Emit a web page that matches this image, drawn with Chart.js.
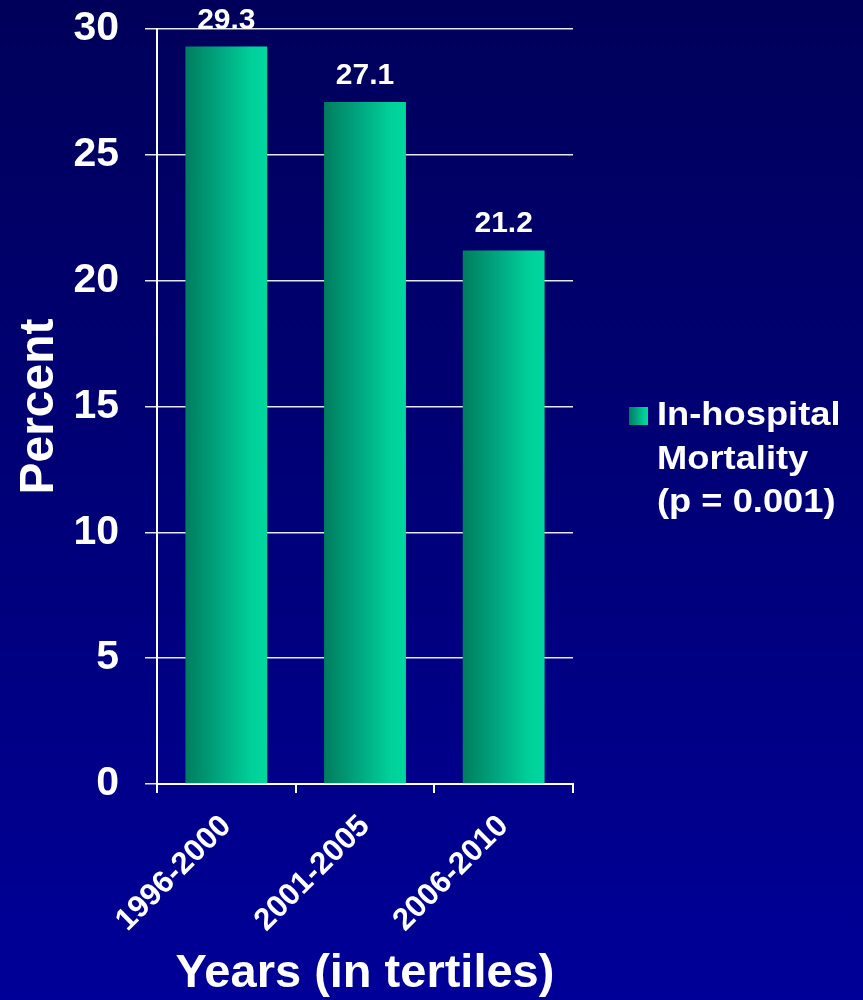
<!DOCTYPE html>
<html>
<head>
<meta charset="utf-8">
<script src="https://cdn.jsdelivr.net/npm/chart.js@4/dist/chart.umd.min.js"></script>
<style>
  html, body { margin: 0; padding: 0; background: #000070; }
  #wrap { width: 863px; height: 1000px; }
</style>
</head>
<body>
<div id="wrap"><canvas id="chart" width="863" height="1000"></canvas></div>
<script>
// Data
const categories = ['1996-2000', '2001-2005', '2006-2010'];
const mortality = [29.3, 27.1, 21.2];
const seriesLines = ['In-hospital', 'Mortality', '(p = 0.001)'];
const yTicks = [0, 5, 10, 15, 20, 25, 30];
const yTitle = 'Percent';
const xTitle = 'Years (in tertiles)';

const FONT = "'Liberation Sans', Arial, Helvetica, sans-serif";
const BAR_PCT = 0.59;

// Horizontal green gradient across one bar
function greenGradient(ctx2d, x0, x1) {
  const g = ctx2d.createLinearGradient(x0, 0, x1, 0);
  g.addColorStop(0, '#007d5e');
  g.addColorStop(0.45, '#00a982');
  g.addColorStop(0.8, '#00cf98');
  g.addColorStop(1, '#00d89f');
  return g;
}

function barFill(context) {
  const chart = context.chart;
  const xs = chart.scales && chart.scales.x;
  if (!xs || context.type !== 'data') return '#00b48a';
  const c = xs.getPixelForValue(context.dataIndex);
  const half = (xs.width / categories.length) * BAR_PCT / 2;
  if (!isFinite(c) || !isFinite(half) || half <= 0) return '#00b48a';
  return greenGradient(chart.ctx, c - half, c + half);
}

// Navy slide background
const backdrop = {
  id: 'backdrop',
  beforeDraw(chart) {
    const { ctx, width, height } = chart;
    const g = ctx.createLinearGradient(0, 0, 0, height);
    g.addColorStop(0, '#00005a');
    g.addColorStop(0.5, '#000078');
    g.addColorStop(1, '#000098');
    ctx.save();
    ctx.fillStyle = g;
    ctx.fillRect(0, 0, width, height);
    ctx.restore();
  }
};

// Value labels above each bar
const valueLabels = {
  id: 'valueLabels',
  afterDatasetsDraw(chart) {
    const { ctx } = chart;
    const meta = chart.getDatasetMeta(0);
    ctx.save();
    ctx.font = 'bold 30px ' + FONT;
    ctx.fillStyle = '#ffffff';
    ctx.textAlign = 'center';
    ctx.textBaseline = 'alphabetic';
    meta.data.forEach((bar, i) => {
      ctx.fillText(mortality[i].toFixed(1), bar.x, bar.y - 18);
    });
    ctx.restore();
  }
};

// Legend block on the right
const sideLegend = {
  id: 'sideLegend',
  afterDraw(chart) {
    const { ctx } = chart;
    ctx.save();
    ctx.fillStyle = greenGradient(ctx, 629, 648);
    ctx.fillRect(629, 407, 19, 18);
    ctx.font = 'bold 33px ' + FONT;
    ctx.fillStyle = '#ffffff';
    ctx.textAlign = 'left';
    ctx.textBaseline = 'alphabetic';
    const baselines = [425, 469, 512];
    seriesLines.forEach((line, i) => {
      ctx.save();
      ctx.translate(657, baselines[i]);
      ctx.scale(1.1, 1);
      ctx.fillText(line, 0, 0);
      ctx.restore();
    });
    ctx.restore();
  }
};

new Chart(document.getElementById('chart'), {
  type: 'bar',
  data: {
    labels: categories,
    datasets: [{
      label: seriesLines.join(' '),
      data: mortality,
      backgroundColor: barFill,
      borderWidth: 0,
      barPercentage: BAR_PCT,
      categoryPercentage: 1.0
    }]
  },
  options: {
    responsive: false,
    animation: false,
    devicePixelRatio: 1,
    layout: { padding: { left: 0, right: 290, top: 29, bottom: 0 } },
    plugins: {
      legend: { display: false },
      tooltip: { enabled: false }
    },
    scales: {
      x: {
        afterFit(scale) {
          scale.height = 216;
          scale.paddingLeft = 0;
          scale.paddingRight = 0;
        },
        grid: {
          display: true,
          drawOnChartArea: false,
          drawTicks: true,
          tickLength: 9,
          color: '#ffffff',
          lineWidth: 2,
          offset: true
        },
        border: { display: true, color: '#ffffff', width: 2 },
        ticks: {
          color: '#ffffff',
          font: { family: FONT, size: 31, weight: 'bold' },
          minRotation: 45,
          maxRotation: 45,
          padding: 15,
          autoSkip: false
        },
        title: {
          display: true,
          text: xTitle,
          color: '#ffffff',
          font: { family: FONT, size: 47, weight: 'bold' },
          padding: { top: 0, bottom: -2 }
        }
      },
      y: {
        min: 0,
        max: 30,
        afterFit(scale) {
          scale.width = 157;
          scale.paddingTop = 0;
          scale.paddingBottom = 0;
        },
        afterBuildTicks(scale) { scale.ticks = yTicks.map(v => ({ value: v })); },
        grid: {
          color: 'rgba(255,255,255,0.9)',
          lineWidth: 1.5,
          tickLength: 12,
          drawTicks: true
        },
        border: { display: true, color: '#ffffff', width: 2 },
        ticks: {
          color: '#ffffff',
          font: { family: FONT, size: 41, weight: 'bold' },
          padding: 26
        },
        title: {
          display: true,
          text: yTitle,
          color: '#ffffff',
          font: { family: FONT, size: 48, weight: 'bold' },
          padding: { top: 11, bottom: 0 }
        }
      }
    }
  },
  plugins: [backdrop, valueLabels, sideLegend]
});
</script>
</body>
</html>
